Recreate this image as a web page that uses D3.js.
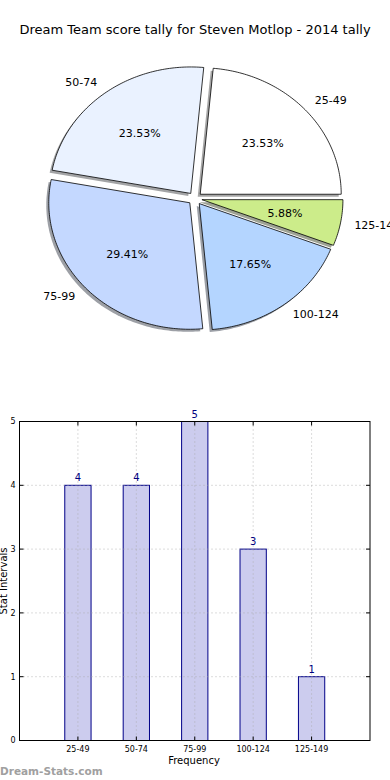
<!DOCTYPE html>
<html><head><meta charset="utf-8">
<script src="https://cdn.jsdelivr.net/npm/d3@7"></script>
<style>body{margin:0;background:#fff;}svg{display:block;font-family:"DejaVu Sans",sans-serif;}</style>
</head><body>
<svg id="c" width="390" height="780"></svg>
<script>
const categories = ["25-49","50-74","75-99","100-124","125-149"];
const counts = [4,4,5,3,1];
const pieColors = ["#ffffff","#eaf2ff","#c4d8ff","#b4d5ff","#ccec8a"];
const yTicks = [0,1,2,3,4,5];
const title = "Dream Team score tally for Steven Motlop - 2014 tally";

const svg = d3.select("#c");
svg.append("text").attr("x",195).attr("y",34).attr("text-anchor","middle")
  .attr("font-size",13).attr("fill","#000").text(title);

// ---- Pie ----
const cx=195, cy=198.5, rx=141, ry=126.5, explode=0.05;
const total = d3.sum(counts);
const pieG = svg.append("g");
const wedges = [];
let acc = 0;
counts.forEach((v,i)=>{
  const a0 = acc/total*360, a1 = (acc+v)/total*360; acc += v;
  const mid = (a0+a1)/2*Math.PI/180;
  const vx = cx + explode*rx*Math.cos(mid), vy = cy - explode*ry*Math.sin(mid);
  wedges.push({a0,a1,mid,vx,vy,i,v});
});
function wedgePath(w, dx, dy){
  const pts=[[w.vx+dx,w.vy+dy]];
  const n = Math.max(8, Math.ceil((w.a1-w.a0)));
  for(let k=0;k<=n;k++){
    const a=(w.a0+(w.a1-w.a0)*k/n)*Math.PI/180;
    pts.push([w.vx+dx+rx*Math.cos(a), w.vy+dy-ry*Math.sin(a)]);
  }
  return d3.line()(pts)+"Z";
}
function shadowColor(c){
  const r=d3.rgb(c);
  const f=x=>Math.round(255*0.5+0.5*0.3*x);
  return d3.rgb(f(r.r),f(r.g),f(r.b)).toString();
}
wedges.forEach(w=>{
  pieG.append("path").attr("d",wedgePath(w,-2.5,2.5)).attr("fill",shadowColor(pieColors[w.i])).attr("stroke","none");
});
wedges.forEach(w=>{
  pieG.append("path").attr("d",wedgePath(w,0,0)).attr("fill",pieColors[w.i])
    .attr("stroke","#000").attr("stroke-width",0.8);
});
wedges.forEach(w=>{
  const c=Math.cos(w.mid), s=Math.sin(w.mid);
  const lx = w.vx + 1.1*rx*c, ly = w.vy - 1.1*ry*s;
  pieG.append("text").attr("x",lx).attr("y",ly).attr("dy","0.35em")
    .attr("text-anchor", c>0?"start":"end").attr("font-size",11).text(categories[w.i]);
  const px = w.vx + 0.6*rx*c, py = w.vy - 0.6*ry*s;
  pieG.append("text").attr("x",px).attr("y",py).attr("dy","0.35em")
    .attr("text-anchor","middle").attr("font-size",11).text((w.v/total*100).toFixed(2)+"%");
});

// ---- Bar chart ----
const L=19.5, R=370, T=421.5, B=740.5;
const x = d3.scaleLinear().domain([-1,5]).range([L,R]);
const y = d3.scaleLinear().domain([0,5]).range([B,T]);
const bw = 0.45;
const bg = svg.append("g");
bg.selectAll("rect.bar").data(counts).enter().append("rect")
  .attr("x",(d,i)=>x(i-bw/2)).attr("width",(d,i)=>x(i+bw/2)-x(i-bw/2))
  .attr("y",d=>y(d)).attr("height",d=>y(0)-y(d))
  .attr("fill","#ccccee").attr("stroke","#000088").attr("stroke-width",1);
// grid
yTicks.forEach(t=>{
  bg.append("line").attr("x1",L).attr("x2",R).attr("y1",y(t)).attr("y2",y(t))
    .attr("stroke","#aaa").attr("stroke-width",1).attr("stroke-dasharray","1,3").attr("opacity",0.8);
});
categories.forEach((c,i)=>{
  bg.append("line").attr("x1",x(i)).attr("x2",x(i)).attr("y1",T).attr("y2",B)
    .attr("stroke","#aaa").attr("stroke-width",1).attr("stroke-dasharray","1,3").attr("opacity",0.8);
});
// frame
bg.append("rect").attr("x",L).attr("y",T).attr("width",R-L).attr("height",B-T)
  .attr("fill","none").attr("stroke","#000").attr("stroke-width",1);
// ticks
yTicks.forEach(t=>{
  bg.append("line").attr("x1",L).attr("x2",L+4).attr("y1",y(t)).attr("y2",y(t)).attr("stroke","#000");
  bg.append("line").attr("x1",R).attr("x2",R-4).attr("y1",y(t)).attr("y2",y(t)).attr("stroke","#000");
  bg.append("text").attr("x",L-4).attr("y",y(t)).attr("dy","0.35em").attr("text-anchor","end")
    .attr("font-size",8).text(t);
});
categories.forEach((c,i)=>{
  bg.append("line").attr("x1",x(i)).attr("x2",x(i)).attr("y1",B).attr("y2",B-4).attr("stroke","#000");
  bg.append("line").attr("x1",x(i)).attr("x2",x(i)).attr("y1",T).attr("y2",T+4).attr("stroke","#000");
  bg.append("text").attr("x",x(i)).attr("y",B+11).attr("text-anchor","middle")
    .attr("font-size",8).text(c);
});
// value labels
bg.selectAll("text.val").data(counts).enter().append("text")
  .attr("x",(d,i)=>x(i)).attr("y",d=>y(d)-4).attr("text-anchor","middle")
  .attr("font-size",10).attr("fill","#000080").text(d=>d);
// axis labels
svg.append("text").attr("x",194).attr("y",764).attr("text-anchor","middle").attr("font-size",10).text("Frequency");
svg.append("text").attr("transform","translate(7,581) rotate(-90)").attr("text-anchor","middle")
  .attr("font-size",10).text("Stat Intervals");
svg.append("text").attr("x",0).attr("y",775).attr("font-size",10.5).attr("font-weight","bold")
  .attr("fill","#a0a0a0").text("Dream-Stats.com");
</script>
</body></html>
